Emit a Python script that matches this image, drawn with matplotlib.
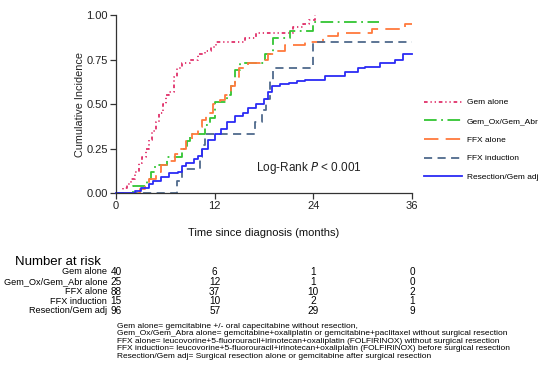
import matplotlib
matplotlib.use('Agg')
import matplotlib.pyplot as plt
import matplotlib.transforms as mtransforms

plt.rcParams['font.family'] = ['Liberation Sans', 'DejaVu Sans']

# cumulative incidence step curves (time in months, value)
gem_t = [0, 0.9, 1.3, 1.8, 2.3, 2.8, 3.2, 3.6, 4.0, 4.4, 4.8, 5.2, 5.7, 6.1, 6.5, 7.0, 7.4,
         8.0, 9.0, 10.0, 10.8, 11.6, 12.2, 15.7, 17.0, 21.5, 22.8, 23.5, 24.2]
gem_v = [0, 0.03, 0.05, 0.08, 0.12, 0.17, 0.20, 0.25, 0.30, 0.35, 0.40, 0.45, 0.50, 0.55, 0.57,
         0.65, 0.70, 0.73, 0.75, 0.78, 0.80, 0.82, 0.85, 0.87, 0.90, 0.93, 0.95, 0.97, 1.00]

ox_t = [0, 2.1, 3.8, 4.3, 4.7, 6.2, 8.0, 8.6, 9.0, 10.8, 11.4, 12.0, 13.5, 14.0, 14.5, 15.1,
        18.1, 19.1, 21.2, 24.0, 32.0]
ox_v = [0, 0.04, 0.08, 0.12, 0.16, 0.20, 0.25, 0.29, 0.33, 0.38, 0.42, 0.51, 0.55, 0.60, 0.69,
        0.73, 0.78, 0.87, 0.91, 0.96, 0.96]

ffx_t = [0, 2.9, 3.5, 4.0, 4.8, 5.5, 6.5, 7.2, 7.8, 8.5, 9.2, 10.0, 10.5, 11.0, 11.8, 12.6,
         13.2, 14.0, 14.5, 15.0, 16.0, 17.5, 18.5, 19.5, 20.5, 23.0, 25.2, 27.0, 31.2, 35.2, 36.0]
ffx_v = [0, 0.02, 0.05, 0.08, 0.12, 0.16, 0.18, 0.22, 0.25, 0.29, 0.33, 0.37, 0.41, 0.45, 0.50,
         0.52, 0.55, 0.60, 0.65, 0.70, 0.73, 0.75, 0.78, 0.80, 0.83, 0.85, 0.88, 0.90, 0.92, 0.95, 0.95]

ind_t = [0, 7.4, 8.0, 10.2, 10.5, 10.8, 16.9, 17.8, 18.3, 18.7, 19.1, 24.0, 36.0]
ind_v = [0, 0.067, 0.133, 0.20, 0.267, 0.333, 0.40, 0.467, 0.53, 0.63, 0.70, 0.85, 0.85]

res_t = [0, 2.3, 3.0, 4.0, 4.5, 5.5, 6.5, 7.5, 8.0, 8.5, 9.5, 10.0, 10.5, 11.2, 12.0, 12.8,
         13.5, 14.5, 15.5, 16.0, 17.0, 18.0, 18.5, 19.0, 20.0, 21.0, 22.0, 23.0, 25.4, 27.9,
         29.4, 30.3, 32.1, 33.9, 34.9, 36.0]
res_v = [0, 0.01, 0.03, 0.05, 0.07, 0.09, 0.11, 0.12, 0.15, 0.17, 0.19, 0.21, 0.25, 0.30, 0.33,
         0.36, 0.40, 0.43, 0.45, 0.48, 0.50, 0.53, 0.57, 0.60, 0.61, 0.62, 0.63, 0.635, 0.66, 0.68,
         0.70, 0.71, 0.73, 0.75, 0.78, 0.78]

legend_labels = ['Gem alone', 'Gem_Ox/Gem_Abr', 'FFX alone', 'FFX induction', 'Resection/Gem adj']
risk_labels = ['Gem alone', 'Gem_Ox/Gem_Abr alone', 'FFX alone', 'FFX induction', 'Resection/Gem adj']
risk_times = [0, 12, 24, 36]
risk_counts = [[40, 6, 1, 0],
               [25, 12, 1, 0],
               [88, 37, 10, 2],
               [15, 10, 2, 1],
               [96, 57, 29, 9]]
footnotes = [
    'Gem alone= gemcitabine +/- oral capecitabine without resection,',
    'Gem_Ox/Gem_Abra alone= gemcitabine+oxaliplatin or gemcitabine+paclitaxel without surgical resection',
    'FFX alone= leucovorine+5-fluorouracil+irinotecan+oxaliplatin (FOLFIRINOX) without surgical resection',
    'FFX induction= leucovorine+5-fluorouracil+irinotecan+oxaliplatin (FOLFIRINOX) before surgical resection',
    'Resection/Gem adj= Surgical resection alone or gemcitabine after surgical resection',
]

fig = plt.figure(figsize=(5.5, 3.68), dpi=100)
ax = fig.add_axes([0.211, 0.4755, 0.538, 0.4837])

series = [(gem_t, gem_v, '#e0306a', (0, (2, 1.6, 0.7, 1.6, 0.7, 1.6))),
          (ox_t, ox_v, '#33c533', (0, (7, 2.5, 1, 2.5))),
          (ffx_t, ffx_v, '#ff7a3d', (0, (8, 4))),
          (ind_t, ind_v, '#4f6a8c', (0, (4.5, 3))),
          (res_t, res_v, '#2b2bf5', '-')]
for (t, v, c, ls), lab in zip(series, legend_labels):
    ax.step(t, v, where='post', color=c, linestyle=ls, lw=1.3, label=lab, clip_on=False)

ax.set_xlim(0, 36)
ax.set_ylim(0, 1)
ax.set_xticks([0, 12, 24, 36])
ax.set_yticks([0, 0.25, 0.5, 0.75, 1.0])
ax.set_yticklabels(['0.00', '0.25', '0.50', '0.75', '1.00'])
for s in ['top', 'right']:
    ax.spines[s].set_visible(False)
for s in ['left', 'bottom']:
    ax.spines[s].set_color('#333333')
    ax.spines[s].set_linewidth(0.9)
ax.tick_params(labelsize=8, length=4, width=0.9, color='#333333', labelcolor='#222222', pad=2)
ax.set_ylabel('Cumulative Incidence', fontsize=7.8, labelpad=1, color='#222222')
ax.set_xlabel('Time since diagnosis (months)', fontsize=8, labelpad=12, color='#111111')

ax.text(0.83, 0.14, 'Log-Rank $\\it{P}$ < 0.001', transform=ax.transAxes, fontsize=8.5,
        ha='right', va='center', color='#222222')

ax.legend(loc='center left', bbox_to_anchor=(0.758, 0.62), bbox_transform=fig.transFigure,
          frameon=False, fontsize=6, handlelength=4.5, labelspacing=1.3, handletextpad=0.6)

# number at risk table
fig.text(0.027, 0.288, 'Number at risk', fontsize=9.5, va='center')
trans = mtransforms.blended_transform_factory(ax.transData, fig.transFigure)
row_y = [0.261, 0.234, 0.207, 0.182, 0.155]
for lab, counts, yy in zip(risk_labels, risk_counts, row_y):
    fig.text(0.195, yy, lab, fontsize=6.6, ha='right', va='center')
    for tt, n in zip(risk_times, counts):
        ax.text(tt, yy, str(n), transform=trans, fontsize=7.2, ha='center', va='center')

fy = 0.114
for line in footnotes:
    fig.text(0.213, fy, line, fontsize=6.0, va='center')
    fy -= 0.0205

fig.savefig('out.png', dpi=100)
